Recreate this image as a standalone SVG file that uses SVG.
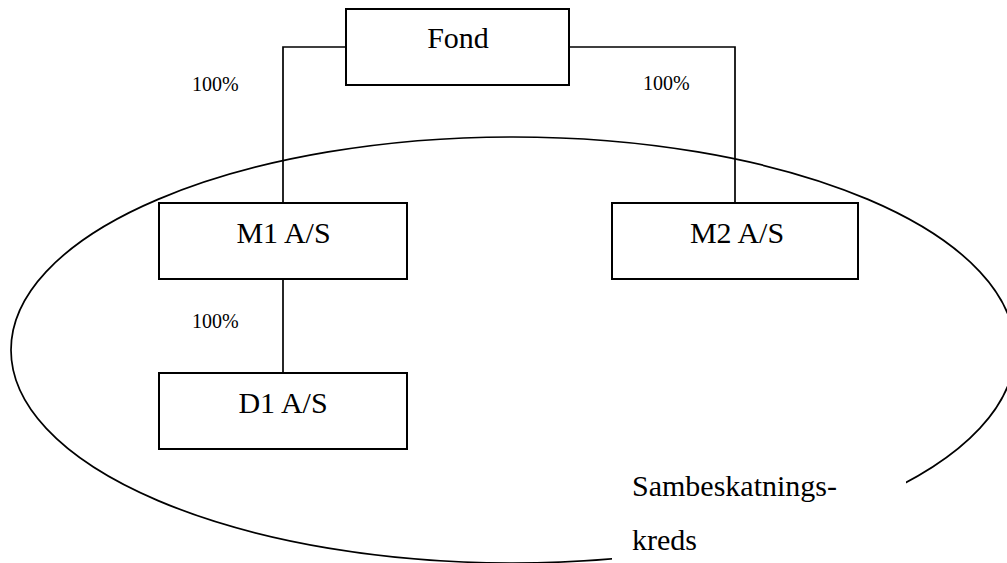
<svg xmlns="http://www.w3.org/2000/svg" width="1007" height="563" viewBox="0 0 1007 563">
  <style>
    .box { fill: #fff; stroke: #000; stroke-width: 2; }
    .wire { fill: none; stroke: #000; stroke-width: 1.7; }
    text { font-family: 'Liberation Serif', 'Times New Roman', 'DejaVu Serif', serif; fill: #000; }
    .name { font-size: 30px; text-anchor: middle; }
    .pct { font-size: 20px; }
    .note { font-size: 30px; }
  </style>
  <rect width="1007" height="563" fill="#fff"/>

  <!-- joint taxation boundary -->
  <g id="boundary">
    <ellipse cx="513" cy="350" rx="502" ry="213" fill="none" stroke="#000" stroke-width="1.7"/>
  </g>

  <!-- ownership connectors -->
  <g id="connectors">
    <polyline class="wire" points="346,47 283,47 283,203"/>
    <polyline class="wire" points="569,47 735,47 735,203"/>
    <line class="wire" x1="283" y1="279" x2="283" y2="373"/>
  </g>

  <g id="fond">
    <rect class="box" x="346" y="9" width="223" height="76"/>
    <text class="name" x="458" y="48" font-family="Liberation Serif, serif">Fond</text>
  </g>

  <g id="m1">
    <rect class="box" x="159" y="203" width="248" height="76"/>
    <text class="name" x="283.5" y="242.5" font-family="Liberation Serif, serif">M1 A/S</text>
  </g>

  <g id="m2">
    <rect class="box" x="612" y="203" width="246" height="76"/>
    <text class="name" x="737" y="242.5" font-family="Liberation Serif, serif">M2 A/S</text>
  </g>

  <g id="d1">
    <rect class="box" x="159" y="373" width="248" height="76"/>
    <text class="name" x="283" y="413" font-family="Liberation Serif, serif">D1 A/S</text>
  </g>

  <!-- ownership shares -->
  <g id="shares">
    <text class="pct" x="192" y="90.5">100%</text>
    <text class="pct" x="643" y="90">100%</text>
    <text class="pct" x="192" y="328">100%</text>
  </g>

  <!-- label sitting on a white patch over the boundary -->
  <g id="label">
    <rect x="612" y="440" width="294" height="123" fill="#fff"/>
    <text class="note" x="632" y="496">Sambeskatnings-</text>
    <text class="note" x="632" y="549.5">kreds</text>
  </g>
</svg>
